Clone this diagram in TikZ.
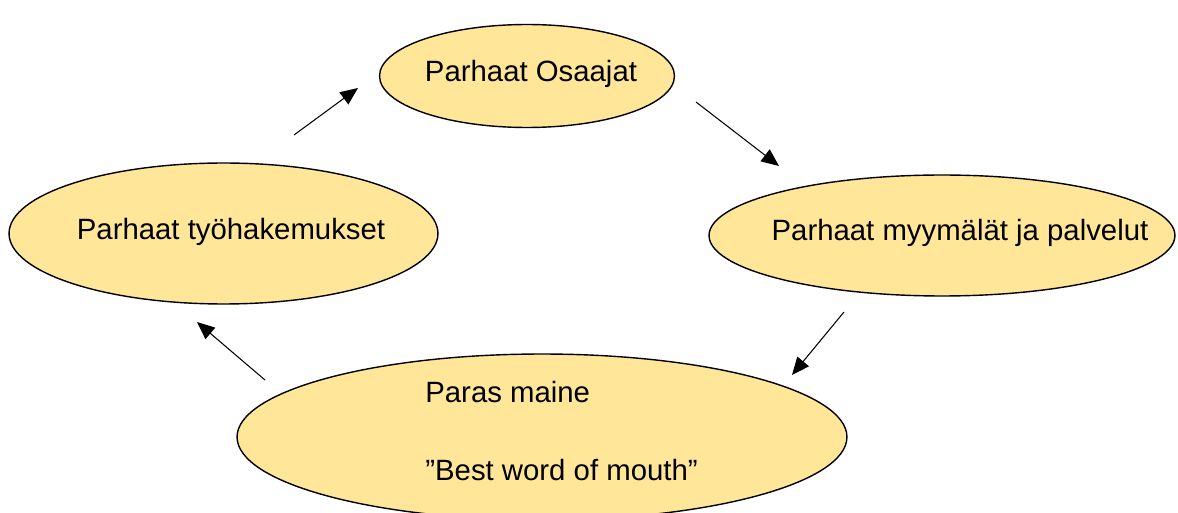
\documentclass[tikz,border=0pt]{standalone}
\usepackage{fontspec}
\setmainfont{Liberation Sans}
\usetikzlibrary{shapes.geometric,arrows.meta}
\definecolor{paleyellow}{RGB}{255,230,153}
\tikzset{
    blob/.style={ellipse, draw=black, line width=0.8pt, fill=paleyellow, inner sep=0pt},
    txt/.style={font=\fontsize{16.7}{20}\selectfont, inner sep=0pt},
    arr/.style={line width=0.6pt, -{Triangle[length=10pt,width=8.5pt]}}
}
\begin{document}
\begin{tikzpicture}[x=0.02cm,y=-0.02cm]
    \useasboundingbox (0,0) rectangle (1178,513);
    % ellipses
    \node[blob, minimum width=5.9cm, minimum height=2.06cm] (osaajat) at (527,76) {};
    \node[blob, minimum width=8.58cm, minimum height=2.82cm] (hakemukset) at (223.5,233.5) {};
    \node[blob, minimum width=9.32cm, minimum height=2.42cm] (myymalat) at (942,235.5) {};
    \node[blob, minimum width=12.2cm, minimum height=3.32cm] (maine) at (542,437) {};
    % texts
    \node[txt] (osaajatTxt) at (531,74) {Parhaat Osaajat};
    \node[txt] (hakemuksetTxt) at (231,232) {Parhaat työhakemukset};
    \node[txt] (myymalatTxt) at (960,233) {Parhaat myymälät ja palvelut};
    \node[txt, anchor=west] (maineTxt) at (425,392) {Paras maine};
    \node[txt, anchor=west] (mouthTxt) at (425,470) {”Best word of mouth”};
    % arrows
    \coordinate (a1) at (294,135);
    \coordinate (b1) at (358,88);
    \coordinate (a2) at (696,102);
    \coordinate (b2) at (779,166);
    \coordinate (a3) at (844,312);
    \coordinate (b3) at (792,375);
    \coordinate (a4) at (265,380);
    \coordinate (b4) at (197,322);
    \draw[arr] (a1) -- (b1);
    \draw[arr] (a2) -- (b2);
    \draw[arr] (a3) -- (b3);
    \draw[arr] (a4) -- (b4);
\end{tikzpicture}
\end{document}
